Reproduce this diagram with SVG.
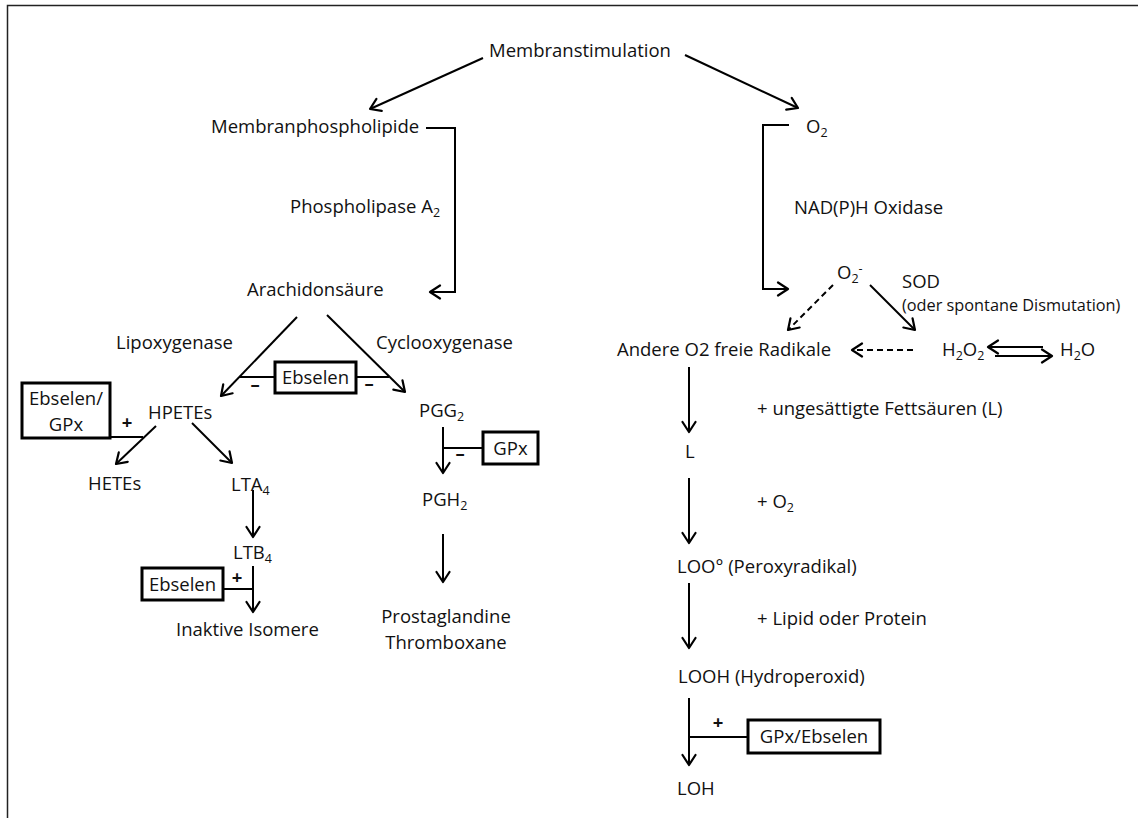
<svg xmlns="http://www.w3.org/2000/svg" width="1138" height="818" viewBox="0 0 1138 818">
<defs>
<marker id="ah" markerUnits="userSpaceOnUse" markerWidth="16" markerHeight="16" viewBox="0 0 16 16" refX="13" refY="8" orient="auto">
<path d="M3,1.5 L13,8 L3,14.5" fill="none" stroke="#000" stroke-width="2.2" stroke-linecap="round" stroke-linejoin="round"/>
</marker>
<style>
text{font-family:"Open Sans","Liberation Sans",sans-serif;font-size:18.5px;fill:#111}
.sm{font-size:16.3px}
.b{font-weight:bold}
.c{text-anchor:middle}
.sub{font-size:12.5px}
.ln{fill:none;stroke:#000;stroke-width:2}
.ar{fill:none;stroke:#000;stroke-width:2;marker-end:url(#ah)}
.da{stroke-dasharray:6,4}
.box{fill:#fff;stroke:#000;stroke-width:3}
</style>
</defs>
<rect x="7.5" y="5.5" width="1140" height="820" fill="#fff" stroke="#222" stroke-width="1.5"/>

<g id="connectors">
<line class="ar" x1="483" y1="58" x2="370" y2="109"/>
<line class="ar" x1="685" y1="55" x2="798" y2="108"/>
<polyline class="ar" points="426,128 455,128 455,292 430,292"/>
<polyline class="ar" points="789,125 763,125 763,289 788,289"/>
<line class="ar" x1="297" y1="317" x2="221" y2="396"/>
<line class="ar" x1="327" y1="315" x2="405" y2="392"/>
<line class="ln" x1="239" y1="377" x2="275" y2="377"/>
<line class="ln" x1="356" y1="377" x2="389" y2="377"/>
<line class="ar" x1="156" y1="426" x2="116" y2="464"/>
<line class="ar" x1="192" y1="423" x2="232" y2="463"/>
<line class="ln" x1="110" y1="437" x2="143" y2="437"/>
<line class="ar" x1="253" y1="490" x2="253" y2="537"/>
<line class="ar" x1="253" y1="566" x2="253" y2="612"/>
<line class="ln" x1="223" y1="589" x2="253" y2="589"/>
<line class="ar" x1="443" y1="427" x2="443" y2="473"/>
<line class="ln" x1="443" y1="448" x2="483" y2="448"/>
<line class="ar" x1="443" y1="534" x2="443" y2="582"/>
<line class="ar da" x1="833" y1="285" x2="788" y2="330"/>
<line class="ar" x1="870" y1="285" x2="915" y2="330"/>
<line class="ar da" x1="913" y1="350" x2="852" y2="350"/>
<line class="ar" x1="1043" y1="347" x2="988" y2="347"/>
<line class="ar" x1="995" y1="356" x2="1052" y2="356"/>
<line class="ar" x1="689" y1="367" x2="689" y2="432"/>
<line class="ar" x1="689" y1="478" x2="689" y2="543"/>
<line class="ar" x1="689" y1="583" x2="689" y2="648"/>
<line class="ar" x1="689" y1="698" x2="689" y2="765"/>
<line class="ln" x1="689" y1="737" x2="748" y2="737"/>
</g>

<g id="membranstimulation"><text x="489" y="57">Membranstimulation</text></g>
<g id="membranphospholipide"><text x="211" y="133">Membranphospholipide</text></g>
<g id="phospholipase"><text x="290" y="213">Phospholipase A<tspan class="sub" dy="4">2</tspan></text></g>
<g id="arachidonsaeure"><text x="247" y="296">Arachidonsäure</text></g>
<g id="o2"><text x="806" y="133">O<tspan class="sub" dy="4">2</tspan></text></g>
<g id="nadph"><text x="794" y="214">NAD(P)H Oxidase</text></g>
<g id="superoxid"><text x="837" y="279">O<tspan class="sub" dy="4">2</tspan><tspan class="sub" dy="-10">-</tspan></text></g>
<g id="sod"><text x="902" y="288">SOD</text><text class="sm" x="902" y="311">(oder spontane Dismutation)</text></g>
<g id="andere"><text x="617" y="356">Andere O2 freie Radikale</text></g>
<g id="h2o2"><text x="942" y="356">H<tspan class="sub" dy="4">2</tspan><tspan dy="-4">O</tspan><tspan class="sub" dy="4">2</tspan></text></g>
<g id="h2o"><text x="1060" y="356">H<tspan class="sub" dy="4">2</tspan><tspan dy="-4">O</tspan></text></g>
<g id="lipoxygenase"><text x="116" y="349">Lipoxygenase</text></g>
<g id="cyclooxygenase"><text x="376" y="349">Cyclooxygenase</text></g>
<g id="ebselen1"><rect class="box" x="275" y="362" width="81" height="31"/><text class="c" x="315.5" y="384">Ebselen</text><text class="b c" x="255" y="391">–</text><text class="b c" x="369" y="390">–</text></g>
<g id="ebselen-gpx"><rect class="box" x="22" y="383" width="88" height="55"/><text class="c" x="66" y="405">Ebselen/</text><text class="c" x="66" y="431">GPx</text><text class="b c" x="127" y="429">+</text></g>
<g id="hpetes"><text x="148" y="419">HPETEs</text></g>
<g id="hetes"><text x="88" y="490">HETEs</text></g>
<g id="lta4"><text x="231" y="491">LTA<tspan class="sub" dy="4">4</tspan></text></g>
<g id="pgg2"><text x="419" y="417">PGG<tspan class="sub" dy="4">2</tspan></text></g>
<g id="gpx"><rect class="box" x="483" y="432" width="55" height="32"/><text class="c" x="510.5" y="455">GPx</text><text class="b c" x="460" y="460">–</text></g>
<g id="pgh2"><text x="422" y="506">PGH<tspan class="sub" dy="4">2</tspan></text></g>
<g id="ltb4"><text x="233" y="559">LTB<tspan class="sub" dy="4">4</tspan></text></g>
<g id="ebselen2"><rect class="box" x="142" y="568" width="81" height="32"/><text class="c" x="182.5" y="591">Ebselen</text><text class="b c" x="237" y="584">+</text></g>
<g id="inaktive"><text x="176" y="636">Inaktive Isomere</text></g>
<g id="prostaglandine"><text class="c" x="446" y="623">Prostaglandine</text><text class="c" x="446" y="649">Thromboxane</text></g>
<g id="fettsaeuren"><text x="757" y="415">+ ungesättigte Fettsäuren (L)</text></g>
<g id="l"><text x="685" y="458">L</text></g>
<g id="plus-o2"><text x="757" y="508">+ O<tspan class="sub" dy="4">2</tspan></text></g>
<g id="loo"><text x="677" y="573">LOO° (Peroxyradikal)</text></g>
<g id="lipid"><text x="757" y="625">+ Lipid oder Protein</text></g>
<g id="looh"><text x="678" y="683">LOOH (Hydroperoxid)</text></g>
<g id="gpx-ebselen"><rect class="box" x="748" y="720" width="132" height="33"/><text class="c" x="814" y="743">GPx/Ebselen</text><text class="b c" x="718" y="729">+</text></g>
<g id="loh"><text x="677" y="795">LOH</text></g>
</svg>
